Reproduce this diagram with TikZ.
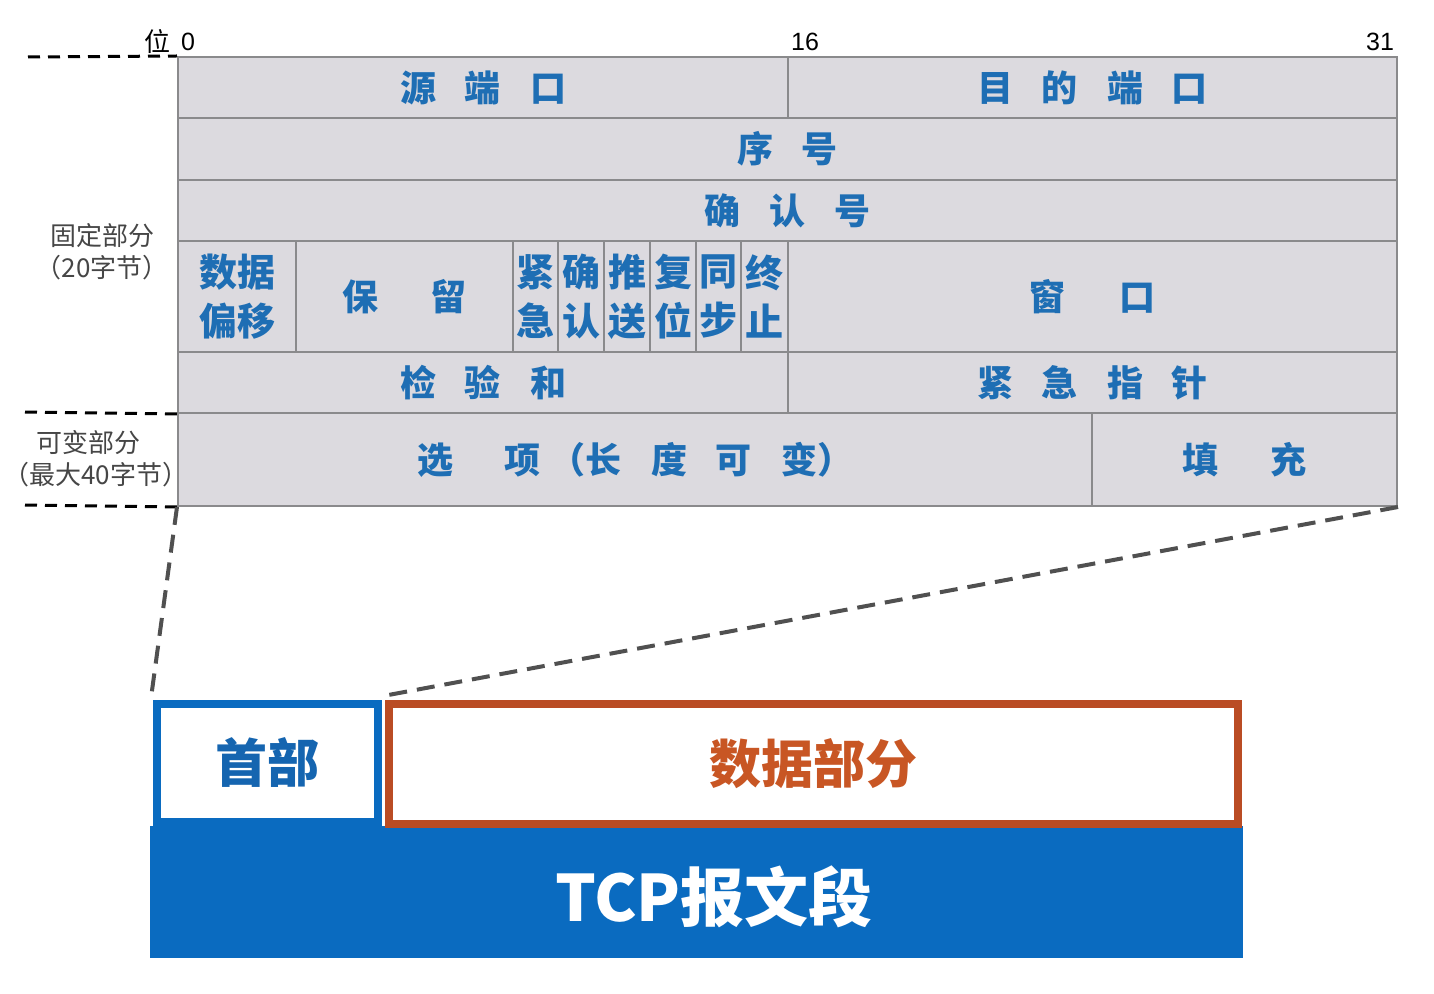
\documentclass[tikz,border=0pt]{standalone}
\usepackage{fontspec}
\setmainfont{Liberation Sans}
\newfontfamily\cjk{Noto Sans CJK SC}
\usetikzlibrary{calc}
\definecolor{cellfill}{RGB}{220,218,223}
\definecolor{cellline}{RGB}{138,138,140}
\definecolor{txtblue}{RGB}{30,110,180}
\definecolor{barblue}{RGB}{10,107,192}
\definecolor{redbrown}{RGB}{186,76,36}
\definecolor{datatxt}{RGB}{200,86,36}
\definecolor{labgray}{RGB}{70,70,70}
\newcommand\gap{\hspace{14.5pt}}
\newcommand\gapb{\hspace{26pt}}
\tikzset{
  cell/.style={draw=cellline, line width=1pt, fill=cellfill, inner sep=0pt,
    text=txtblue, font=\cjk\bfseries\fontsize{18}{20}\selectfont},
  flag/.style={cell, align=center, font=\cjk\bfseries\fontsize{19}{24.5}\selectfont},
  sidelab/.style={text=labgray, inner sep=0pt, font=\cjk\fontsize{13}{15}\selectfont},
  bitlab/.style={inner sep=0pt, font=\fontsize{12.5}{14}\selectfont},
  guide/.style={dashed, dash pattern=on 6pt off 4pt, line width=1.5pt, black},
  persp/.style={dash pattern=on 9pt off 5pt, line width=2pt, draw={rgb,255:red,80;green,80;blue,80}},
}
\newcommand\cell[7][cell]{\node[#1, minimum width={(#5-#3)*0.5pt}, minimum height={(#6-#4)*0.5pt}] (#2) at ({(#3+#5)/2},{(#4+#6)/2}) {#7};}
\begin{document}
\begin{tikzpicture}[x=0.5pt,y=-0.5pt]
\useasboundingbox (0,0) rectangle (1434,994);
% table
\cell{src}{178}{57}{788}{118}{源\gap 端\gap 口}
\cell{dst}{788}{57}{1397}{118}{目\gap 的\gap 端\gap 口}
\cell{seq}{178}{118}{1397}{180}{序\gap 号}
\cell{ack}{178}{180}{1397}{241}{确\gap 认\gap 号}
\cell[flag]{off}{178}{241}{296}{352}{数据\\偏移}
\cell{rsv}{296}{241}{513}{352}{保\gapb 留}
\cell[flag]{urg}{513}{241}{558}{352}{紧\\急}
\cell[flag]{ackf}{558}{241}{604}{352}{确\\认}
\cell[flag]{psh}{604}{241}{650}{352}{推\\送}
\cell[flag]{rst}{650}{241}{696}{352}{复\\位}
\cell[flag]{syn}{696}{241}{741}{352}{同\\步}
\cell[flag]{fin}{741}{241}{788}{352}{终\\止}
\cell{win}{788}{241}{1397}{352}{窗\hspace{27pt}口}
\cell{chk}{178}{352}{788}{413}{检\gap 验\gap 和}
\cell{uptr}{788}{352}{1397}{413}{紧\gap 急\gap 指\gap 针}
\cell{opt}{178}{413}{1092}{506}{选\gapb 项\hspace{4.5pt}（长\gap 度\gap 可\gap 变）}
\cell{pad}{1092}{413}{1397}{506}{填\gapb 充}
% bit labels
\node[bitlab, font=\cjk\fontsize{13}{15}\selectfont] (wei) at (157,42) {位};
\node[bitlab] (b0) at (188,42) {0};
\node[bitlab] (b16) at (805,42) {16};
\node[bitlab] (b31) at (1380,42) {31};
% side labels
\node[sidelab] (fix1) at (102,236) {固定部分};
\node[sidelab] (fix2) at (102,268) {（20字节）};
\node[sidelab] (var1) at (88,443) {可变部分};
\node[sidelab] (var2) at (96,475) {（最大40字节）};
% guide dashed lines
\coordinate (g1) at (28,57);
\coordinate (g2) at (25,412);
\coordinate (g3) at (25,505);
\draw[guide] (g1) -- (src.north west);
\draw[guide] (g2) -- (chk.south west);
\draw[guide] (g3) -- (opt.south west);
% bottom segment
\node[fill=barblue, inner sep=0pt, minimum width={1093*0.5pt}, minimum height={132*0.5pt}] (tcp) at (696.5,892) {};
\node[text=white, inner sep=0pt, font=\cjk\bfseries\fontsize{32}{36}\selectfont] (tcplab) at (714,897) {TCP报文段};
\node[draw=barblue, line width=4pt, fill=white, inner sep=0pt, minimum width={221*0.5pt}, minimum height={118*0.5pt},
  text={rgb,255:red,21;green,101;blue,176}, font=\cjk\bfseries\fontsize{26}{30}\selectfont] (head) at (267.5,763) {首部};
\node[draw=redbrown, line width=4pt, fill=white, inner sep=0pt, minimum width={849*0.5pt}, minimum height={120*0.5pt},
  text=datatxt, font=\cjk\bfseries\fontsize{26}{30}\selectfont] (data) at (813.5,764) {数据部分};
% perspective lines
\draw[persp] (opt.south west) -- ($(head.north west)+(-2,-2)$);
\draw[persp] (pad.south east) -- ($(data.north west)+(-2,-4)$);
\end{tikzpicture}
\end{document}
